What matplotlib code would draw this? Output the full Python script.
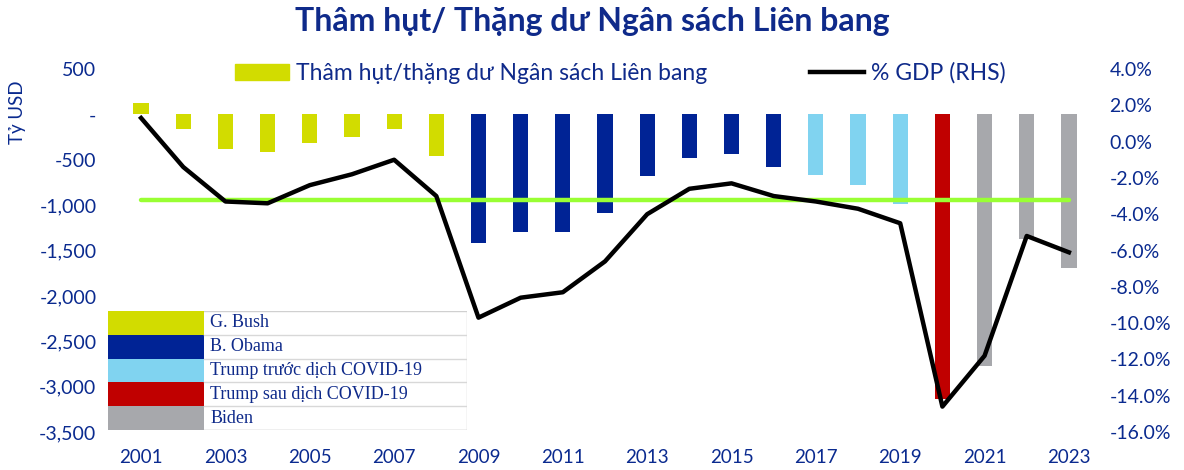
import numpy as np
import matplotlib.pyplot as plt
from matplotlib.patches import Patch, Rectangle
from matplotlib.lines import Line2D
from matplotlib.ticker import FuncFormatter

plt.rcParams["font.family"] = ["Lato", "DejaVu Sans"]

# data
years = list(range(2001, 2024))
balance = [128, -158, -378, -413, -318, -248, -161, -459,
           -1413, -1294, -1300, -1087, -680, -485, -442, -585,
           -665, -779, -984, -3132, -2775, -1376, -1695]
gdp_pct = [1.3, -1.4, -3.3, -3.4, -2.4, -1.8, -1.0, -3.0,
           -9.7, -8.6, -8.3, -6.6, -4.0, -2.6, -2.3, -3.0,
           -3.3, -3.7, -4.5, -14.6, -11.8, -5.2, -6.1]
avg_pct = -3.2
groups = ["G. Bush"] * 8 + ["B. Obama"] * 8 + ["Trump trước dịch COVID-19"] * 3 \
    + ["Trump sau dịch COVID-19"] + ["Biden"] * 3
group_names = ["G. Bush", "B. Obama", "Trump trước dịch COVID-19",
               "Trump sau dịch COVID-19", "Biden"]
group_colors = ["#D2DC00", "#002395", "#80D3F0", "#C00000", "#A7A8AC"]

navy = "#0F2A8A"
tick_col = "#0A2A8F"
cmap = dict(zip(group_names, group_colors))

fig = plt.figure(figsize=(11.84, 4.70), dpi=100)
ax = fig.add_axes([120 / 1184, 1 - 432 / 470, 970 / 1184, 363 / 470])
ax2 = ax.twinx()

ax.bar(years, balance, width=0.36, color=[cmap[g] for g in groups], zorder=2)
ax.set_xlim(2000.5, 2023.5)
ax.set_ylim(-3500, 500)
ax.set_yticks(np.arange(-3500, 501, 500))
ax.yaxis.set_major_formatter(FuncFormatter(lambda v, p: "-" if v == 0 else f"{v:,.0f}"))
ax.set_xticks(years[::2])

ax2.plot([years[0], years[-1]], [avg_pct, avg_pct], color="#99FF33", lw=3.2,
         solid_capstyle="round", zorder=3)
ax2.plot(years, gdp_pct, color="black", lw=3.2, zorder=4)
ax2.set_ylim(-16, 4)
ax2.set_yticks(np.arange(-16, 4.1, 2))
ax2.yaxis.set_major_formatter(FuncFormatter(lambda v, p: f"{v:.1f}%"))

for a in (ax, ax2):
    for s in a.spines.values():
        s.set_visible(False)
ax.tick_params(axis="y", length=0, pad=17, labelsize=14, labelcolor=tick_col)
ax.tick_params(axis="x", length=0, pad=12, labelsize=13.5, labelcolor=tick_col)
ax2.tick_params(axis="y", length=0, pad=14, labelsize=14, labelcolor=tick_col)

fig.text(18 / 1184, 1 - 112 / 470, "Tỷ USD", rotation=90, ha="center", va="center",
         fontsize=13.5, color=tick_col)

fig.suptitle("Thâm hụt/ Thặng dư Ngân sách Liên bang", x=0.5, y=1 - 21 / 470,
             va="center", fontsize=23, fontweight="bold", color=navy)

handles = [Patch(color="#D2DC00"), Line2D([], [], color="black", lw=3.2)]
fig.legend(handles, ["Thâm hụt/thặng dư Ngân sách Liên bang", "% GDP (RHS)"],
           loc="center", bbox_to_anchor=(620 / 1184, 1 - 73 / 470), ncol=2,
           frameon=False, fontsize=16.5, handlelength=2.36, columnspacing=4.5,
           handletextpad=0.3, labelcolor=navy)

# president legend box
lg = fig.add_axes([108 / 1184, 1 - 430 / 470, 359 / 1184, 119 / 470])
lg.set_xlim(0, 1)
lg.set_ylim(0, len(group_names))
lg.axis("off")
lg.add_patch(Rectangle((0, 0), 1, len(group_names), facecolor="white",
                       edgecolor="#D0D0D0", lw=1))
for i, (name, col) in enumerate(zip(group_names, group_colors)):
    yb = len(group_names) - 1 - i
    lg.add_patch(Rectangle((0, yb), 0.267, 1, facecolor=col, edgecolor="none"))
    lg.plot([0.267, 1], [yb, yb], color="#D8D8D8", lw=1)
    lg.text(0.285, yb + 0.5, name, va="center", ha="left", fontsize=13,
            family="Liberation Serif", color=navy)

fig.savefig("out.png", dpi=100)
